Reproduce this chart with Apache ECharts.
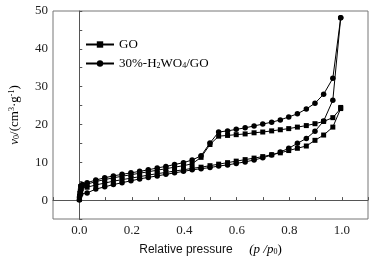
<!DOCTYPE html>
<html>
<head>
<meta charset="utf-8">
<script src="https://cdn.jsdelivr.net/npm/echarts@6/dist/echarts.min.js"></script>
<style>
html, body { margin: 0; padding: 0; background: #fff; }
#chart { width: 378px; height: 261px; }
</style>
</head>
<body>
<div id="chart"></div>
<script>
// relative pressure grid shared by the branches
const pGrid = [0.03, 0.063, 0.097, 0.13, 0.163, 0.197, 0.23, 0.263, 0.297, 0.33, 0.363, 0.397, 0.43, 0.464, 0.498,
    0.531, 0.565, 0.598, 0.632, 0.666, 0.699, 0.733, 0.766, 0.798, 0.831, 0.865, 0.898, 0.931, 0.966, 0.996]
const pLow = [0.0005, 0.001, 0.002, 0.004, 0.006, 0.008]

// GO
const goAdsLow = [0.2, 1.0, 1.8, 2.4, 2.8, 3.1]
const goAds = [3.4, 4.0, 4.5, 5.0, 5.4, 5.8, 6.2, 6.6, 7.0, 7.3, 7.7, 8.0, 8.4, 8.7, 9.1,
    9.5, 9.9, 10.3, 10.7, 11.1, 11.5, 12.0, 12.5, 13.1, 13.7, 14.3, 15.8, 17.2, 19.3, 24.2]
const goDes = [4.2, 4.9, 5.4, 5.9, 6.3, 6.7, 7.1, 7.5, 7.9, 8.3, 8.7, 9.1, 9.6, 11.3, 14.7,
    16.9, 17.1, 17.3, 17.5, 17.8, 18.0, 18.3, 18.6, 18.9, 19.3, 19.7, 20.2, 20.8, 21.8, 24.5]
const goDesLow = [3.9, 3.6]
const pDesLow = [0.012, 0.006]

// 30%-H2WO4/GO
const hwAdsLow = [0.0, 0.8, 1.3, 1.6]
const pHwLow = [0.0005, 0.001, 0.003, 0.006]
const hwAds = [1.9, 2.9, 3.5, 4.1, 4.6, 5.1, 5.6, 6.0, 6.4, 6.8, 7.2, 7.6, 8.0, 8.3, 8.6,
    9.0, 9.3, 9.7, 10.1, 10.6, 11.2, 11.9, 12.7, 13.7, 15.0, 16.3, 18.2, 20.9, 26.4, 48.2]
const hwDes = [4.6, 5.3, 5.9, 6.4, 6.8, 7.2, 7.6, 8.0, 8.5, 8.9, 9.4, 9.9, 10.6, 11.7, 15.1,
    18.0, 18.3, 18.7, 19.1, 19.6, 20.1, 20.6, 21.2, 22.0, 22.8, 24.1, 25.6, 28.0, 32.2, 48.2]
const hwDesLow = [4.1, 3.7]

function loop(pl, al, ads, des, pdl, dl) {
    let d = []
    for (let i = 0; i < pl.length; i++) d.push([pl[i], al[i]])
    for (let i = 0; i < pGrid.length; i++) d.push([pGrid[i], ads[i]])
    for (let i = pGrid.length - 1; i >= 0; i--) d.push([pGrid[i], des[i]])
    for (let i = 0; i < pdl.length; i++) d.push([pdl[i], dl[i]])
    return d
}

const serif = 'Liberation Serif'
const sans = 'Liberation Sans'
const dom = document.getElementById('chart')
const myChart = echarts.init(dom)

option = {
    animation: false,
    grid: {
        left: 52, right: 10, top: 11, bottom: 42,
        show: true, borderColor: '#777', borderWidth: 1
    },
    legend: {
        left: 80, top: 33, orient: 'vertical', itemGap: 6,
        itemWidth: 28, itemHeight: 8,
        textStyle: {
            fontFamily: serif, fontSize: 13, color: '#000',
            rich: {
                sub: { fontSize: 8, verticalAlign: 'bottom', fontFamily: serif, color: '#000' }
            }
        },
        formatter: function (name) {
            if (name === 'GO') return 'GO'
            return '30%-H{sub|2}WO{sub|4}/GO'
        },
        data: ['GO', '30%-H2WO4/GO']
    },
    xAxis: {
        type: 'value', min: -0.1, max: 1.1, interval: 0.1,
        name: 'Relative pressure     {i|(p /p}{s|0}{t|)}',
        nameLocation: 'middle', nameGap: 24,
        nameTextStyle: {
            fontFamily: sans, fontSize: 12, color: '#111',
            rich: {
                i: { fontFamily: serif, fontSize: 13, fontStyle: 'italic', color: '#000' },
                s: { fontFamily: serif, fontSize: 8, verticalAlign: 'bottom', color: '#000' },
                t: { fontFamily: serif, fontSize: 13, color: '#000' }
            }
        },
        axisLine: { lineStyle: { color: '#555' } },
        axisTick: { inside: true, length: 3, lineStyle: { color: '#555' } },
        axisLabel: {
            fontFamily: serif, fontSize: 13, color: '#222', margin: 5,
            formatter: function (v) {
                let k = Math.round(v * 10)
                if (k < 0 || k % 2 !== 0) return ''
                return (k / 10).toFixed(1)
            }
        },
        splitLine: { show: false }
    },
    yAxis: {
        type: 'value', min: -5, max: 50, interval: 5,
        name: '{i|v}{s|0}/(cm{p|3}·g{p|-1})',
        nameLocation: 'middle', nameGap: 32, nameRotate: 90,
        nameTextStyle: {
            fontFamily: serif, fontSize: 13, color: '#000',
            rich: {
                i: { fontFamily: serif, fontSize: 13, fontStyle: 'italic', color: '#000' },
                s: { fontFamily: serif, fontSize: 8, verticalAlign: 'bottom', color: '#000' },
                p: { fontFamily: serif, fontSize: 8, verticalAlign: 'top', color: '#000' }
            }
        },
        axisLine: { lineStyle: { color: '#555' } },
        axisTick: { inside: true, length: 3, lineStyle: { color: '#555' } },
        axisLabel: {
            fontFamily: serif, fontSize: 13, color: '#222', margin: 5,
            formatter: function (v) {
                return (Math.round(v) % 10 === 0) ? String(Math.round(v)) : ''
            }
        },
        splitLine: { show: false }
    },
    series: [
        {
            name: 'GO', type: 'line',
            data: loop(pLow, goAdsLow, goAds, goDes, pDesLow, goDesLow),
            symbol: 'rect', symbolSize: 5,
            lineStyle: { color: '#000', width: 1 },
            itemStyle: { color: '#000' }
        },
        {
            name: '30%-H2WO4/GO', type: 'line',
            data: loop(pHwLow, hwAdsLow, hwAds, hwDes, pDesLow, hwDesLow),
            symbol: 'circle', symbolSize: 5.5,
            lineStyle: { color: '#000', width: 1 },
            itemStyle: { color: '#000' }
        }
    ]
}

if (option && typeof option === 'object') {
    myChart.setOption(option, true)
}
</script>
</body>
</html>
